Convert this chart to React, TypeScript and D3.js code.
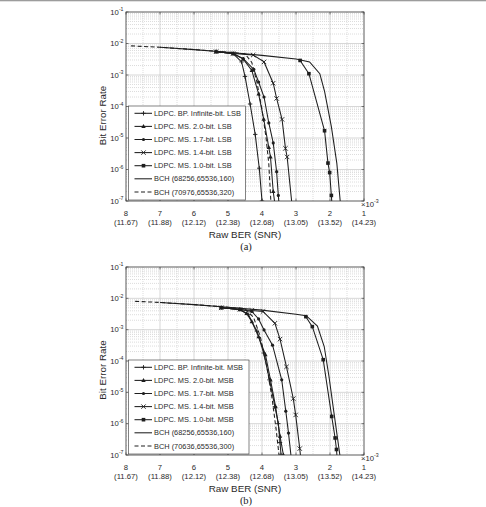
import React from 'react';
import * as d3 from 'd3';

type Pt = [number, number];
type Mark = 'plus' | 'tri' | 'dot' | 'x' | 'square' | 'none';

// x axis: raw BER (x1e-3) with the matching SNR under it
const rawBer = [8, 7, 6, 5, 4, 3, 2, 1];
const snrLabels = ['(11.67)', '(11.88)', '(12.12)', '(12.38)', '(12.68)', '(13.05)', '(13.52)', '(14.23)'];
const decades = [-1, -2, -3, -4, -5, -6, -7];

// ---- (a) LSB page ----
const aBP: Pt[] = [[5.35, 5.5e-3], [4.85, 4.8e-3], [4.6, 2.6e-3], [4.5, 9e-4], [4.35, 1.2e-4], [4.2, 1.3e-5], [4.08, 1.1e-6], [4.0, 1e-7]];
const a20: Pt[] = [[5.35, 5.5e-3], [4.85, 4.8e-3], [4.55, 3.2e-3], [4.3, 1.4e-3], [4.1, 2.5e-4], [3.95, 4e-5], [3.8, 5e-6], [3.75, 2.5e-6], [3.67, 2e-7], [3.62, 8e-8]];
const a17: Pt[] = [[5.35, 5.5e-3], [4.85, 4.8e-3], [4.55, 3.3e-3], [4.24, 1.5e-3], [4.1, 6e-4], [3.94, 2e-4], [3.8, 3e-5], [3.67, 7e-6], [3.57, 8.5e-7], [3.52, 1.5e-7], [3.49, 6e-8]];
const a14: Pt[] = [[5.35, 5.5e-3], [4.85, 4.8e-3], [4.26, 4.3e-3], [3.94, 2.6e-3], [3.67, 5.5e-4], [3.57, 1.8e-4], [3.41, 3.9e-5], [3.31, 4.7e-6], [3.26, 2.5e-6], [3.12, 8e-8]];
const a10: Pt[] = [[2.88, 2.9e-3], [2.62, 1.1e-3], [2.16, 1.7e-5], [2.06, 1.6e-6], [2.01, 8e-7], [1.96, 1.5e-7], [1.93, 5e-8]];
const aBch160: Pt[] = [[7, 7.6e-3], [6, 6.4e-3], [5, 5.3e-3], [4, 4.2e-3], [3, 3.2e-3], [2.6, 2.6e-3], [2.3, 1.1e-3], [2.16, 3e-4], [1.96, 2.3e-5], [1.8, 1.6e-6], [1.7, 1e-7]];
const aBch320: Pt[] = [[7.85, 8.4e-3], [7, 7.6e-3], [6, 6.4e-3], [5, 5.3e-3], [4.5, 4.7e-3], [4.3, 2.5e-3], [4.15, 6e-4], [4.0, 8e-5], [3.88, 1e-5], [3.8, 1.5e-6], [3.74, 1e-7]];
const legendA = ['LDPC. BP. Infinite-bit. LSB', 'LDPC. MS. 2.0-bit. LSB', 'LDPC. MS. 1.7-bit. LSB', 'LDPC. MS. 1.4-bit. LSB', 'LDPC. MS. 1.0-bit. LSB', 'BCH (68256,65536,160)', 'BCH (70976,65536,320)'];

// ---- (b) MSB page ----
const bBP: Pt[] = [[5.2, 5e-3], [4.65, 4.4e-3], [4.4, 3e-3], [4.15, 9e-4], [3.95, 1.8e-4], [3.78, 2.5e-5], [3.62, 3.5e-6], [3.52, 1e-6], [3.47, 2.5e-7], [3.44, 1e-7]];
const b20: Pt[] = [[5.2, 5e-3], [4.65, 4.4e-3], [4.45, 3.3e-3], [4.3, 1.8e-3], [4.1, 6e-4], [3.9, 1.6e-4], [3.75, 2.5e-5], [3.6, 3.5e-6], [3.47, 4e-7], [3.37, 1e-7]];
const b17: Pt[] = [[5.2, 5e-3], [4.65, 4.4e-3], [4.3, 3.8e-3], [4.1, 2.2e-3], [3.94, 9.8e-4], [3.69, 3.2e-4], [3.42, 2.5e-5], [3.3, 2.5e-6], [3.22, 5e-7], [3.14, 8e-8]];
const b14: Pt[] = [[5.2, 5e-3], [4.65, 4.4e-3], [4.3, 4.1e-3], [3.97, 3.8e-3], [3.62, 1.6e-3], [3.47, 5e-4], [3.28, 6.5e-5], [3.08, 6.3e-6], [3.01, 1.9e-6], [2.89, 1.6e-7], [2.86, 8e-8]];
const b10: Pt[] = [[2.71, 2.6e-3], [2.52, 1.25e-3], [2.2, 1.1e-4], [1.95, 1.7e-6], [1.85, 3.5e-7], [1.81, 1.5e-7], [1.78, 6e-8]];
const bBch160: Pt[] = [[7, 7.4e-3], [6, 6.3e-3], [5, 5.2e-3], [4, 4.2e-3], [3, 3.1e-3], [2.7, 2.8e-3], [2.37, 1.3e-3], [2.17, 2.9e-4], [2.03, 3.2e-5], [1.88, 2.1e-6], [1.71, 1e-7]];
const bBch300: Pt[] = [[7.73, 8e-3], [7, 7.4e-3], [6, 6.3e-3], [5, 5.2e-3], [4.5, 4.6e-3], [4.25, 2.5e-3], [4.05, 6e-4], [3.85, 6e-5], [3.7, 6e-6], [3.58, 6e-7], [3.5, 1e-7]];
const legendB = ['LDPC. BP. Infinite-bit. MSB', 'LDPC. MS. 2.0-bit. MSB', 'LDPC. MS. 1.7-bit. MSB', 'LDPC. MS. 1.4-bit. MSB', 'LDPC. MS. 1.0-bit. MSB', 'BCH (68256,65536,160)', 'BCH (70636,65536,300)'];

const marks: Mark[] = ['plus', 'tri', 'dot', 'x', 'square', 'none', 'none'];
const dashedIdx = 6;

const seriesA = [aBP, a20, a17, a14, a10, aBch160, aBch320];
const seriesB = [bBP, b20, b17, b14, b10, bBch160, bBch300];

const SANS = '"Liberation Sans", Arial, Helvetica, sans-serif';
const INK = '#1e1e1e';
const TXT = '#2a2a2a';

function Marker({ type, cx, cy }: { type: Mark; cx: number; cy: number }) {
  const s = 2.2;
  if (type === 'plus')
    return <path d={`M${cx - s},${cy}H${cx + s}M${cx},${cy - s}V${cy + s}`} stroke={INK} strokeWidth={0.9} />;
  if (type === 'x')
    return <path d={`M${cx - s},${cy - s}L${cx + s},${cy + s}M${cx - s},${cy + s}L${cx + s},${cy - s}`} stroke={INK} strokeWidth={0.9} />;
  if (type === 'tri')
    return <path d={`M${cx},${cy - 2.4}L${cx + 2.2},${cy + 1.6}L${cx - 2.2},${cy + 1.6}Z`} fill={INK} />;
  if (type === 'dot') return <circle cx={cx} cy={cy} r={1.6} fill={INK} />;
  if (type === 'square') return <rect x={cx - 1.8} y={cy - 1.8} width={3.6} height={3.6} fill={INK} />;
  return null;
}

function Panel({ id, top, height, series, legend, legendW, tag }: {
  id: string; top: number; height: number; series: Pt[][]; legend: string[]; legendW: number; tag: string;
}) {
  const left = 126;
  const right = 364;
  const bottom = top + height;
  const x = d3.scaleLinear().domain([8, 1]).range([left, right]);
  const y = d3.scaleLog().domain([1e-7, 1e-1]).range([bottom, top]);
  const line = d3.line<Pt>().x(d => x(d[0])).y(d => y(d[1]));

  const xMinor = d3.range(1.5, 8, 1);
  const xMajor = d3.range(2, 8, 1);
  const yMinor: number[] = [];
  for (let e = -7; e < -1; e++) for (let k = 2; k <= 9; k++) yMinor.push(k * Math.pow(10, e));
  const yMajor = decades.slice(1, -1).map(e => Math.pow(10, e));

  const lgX = left + 2.5;
  const lgY = bottom - 95;
  const rowH = 13.1;

  return (
    <g>
      <defs>
        <clipPath id={id}>
          <rect x={left} y={top} width={right - left} height={height} />
        </clipPath>
      </defs>
      {/* grid */}
      {yMinor.map((v, i) => (
        <line key={'ym' + i} x1={left} x2={right} y1={y(v)} y2={y(v)} stroke="#b8b8b8" strokeWidth={0.5} strokeDasharray="1,1" />
      ))}
      {xMinor.map((v, i) => (
        <line key={'xm' + i} x1={x(v)} x2={x(v)} y1={top} y2={bottom} stroke="#b8b8b8" strokeWidth={0.5} strokeDasharray="1,1" />
      ))}
      {yMajor.map((v, i) => (
        <line key={'yM' + i} x1={left} x2={right} y1={y(v)} y2={y(v)} stroke="#bcbcbc" strokeWidth={0.6} />
      ))}
      {xMajor.map((v, i) => (
        <line key={'xM' + i} x1={x(v)} x2={x(v)} y1={top} y2={bottom} stroke="#bcbcbc" strokeWidth={0.6} />
      ))}

      {/* curves */}
      <g clipPath={`url(#${id})`}>
        {series.map((s, i) => (
          <g key={'s' + i}>
            <path d={line(s) || ''} fill="none" stroke={INK} strokeWidth={1.05}
              strokeDasharray={i === dashedIdx ? '4,2.5' : undefined} />
            {s.map((p, j) => <Marker key={j} type={marks[i]} cx={x(p[0])} cy={y(p[1])} />)}
          </g>
        ))}
      </g>

      {/* axes box and ticks */}
      <rect x={left} y={top} width={right - left} height={height} fill="none" stroke="#333" strokeWidth={0.8} />
      {rawBer.map((v, i) => (
        <g key={'xt' + i}>
          <line x1={x(v)} x2={x(v)} y1={bottom} y2={bottom - 2.5} stroke="#333" strokeWidth={0.6} />
          <line x1={x(v)} x2={x(v)} y1={top} y2={top + 2.5} stroke="#333" strokeWidth={0.6} />
          <text x={x(v)} y={bottom + 15} textAnchor="middle" fontSize={7.7} fontFamily={SANS} fill={TXT}>{v}</text>
          <text x={x(v)} y={bottom + 24} textAnchor="middle" fontSize={7.7} fontFamily={SANS} fill={TXT}>{snrLabels[i]}</text>
        </g>
      ))}
      {decades.map((e, i) => (
        <g key={'yt' + i}>
          <line x1={left} x2={left + 2.5} y1={y(Math.pow(10, e))} y2={y(Math.pow(10, e))} stroke="#333" strokeWidth={0.6} />
          <line x1={right} x2={right - 2.5} y1={y(Math.pow(10, e))} y2={y(Math.pow(10, e))} stroke="#333" strokeWidth={0.6} />
          <text x={left - 2.5} y={y(Math.pow(10, e)) + 2.6} textAnchor="end" fontSize={7.7} fontFamily={SANS} fill={TXT}>
            10<tspan dy={-3.2} fontSize={5.2}>{e}</tspan>
          </text>
        </g>
      ))}
      <text x={right - 3} y={bottom + 5.5} fontSize={7.7} fontFamily={SANS} fill={TXT}>
        ×10<tspan dy={-3.2} fontSize={5.2}>-3</tspan>
      </text>

      {/* legend */}
      <rect x={lgX} y={lgY} width={legendW} height={94} fill="#fff" stroke="#333" strokeWidth={0.6} />
      {legend.map((lab, i) => {
        const cy = lgY + 7.3 + i * rowH;
        return (
          <g key={'lg' + i}>
            <line x1={lgX + 6} x2={lgX + 23.5} y1={cy} y2={cy} stroke={INK} strokeWidth={1.05}
              strokeDasharray={i === dashedIdx ? '4,2.5' : undefined} />
            <Marker type={marks[i]} cx={lgX + 15} cy={cy} />
            <text x={lgX + 25.5} y={cy + 2.6} fontSize={7.4} fontFamily={SANS} fill={TXT}>{lab}</text>
          </g>
        );
      })}

      {/* titles */}
      <text transform={`translate(105.5,${(top + bottom) / 2 + 9}) rotate(-90)`} textAnchor="middle"
        fontSize={9.8} fontFamily={SANS} fill={TXT}>Bit Error Rate</text>
      <text x={(left + right) / 2} y={bottom + 37} textAnchor="middle" fontSize={9.8} fontFamily={SANS} fill={TXT}>Raw BER (SNR)</text>
      <text x={(left + right) / 2 + 1} y={bottom + 48.5} textAnchor="middle" fontSize={10.5}
        fontFamily='"Liberation Serif", "Times New Roman", serif' fill="#222">{tag}</text>
    </g>
  );
}

export default function App() {
  return (
    <svg width={486} height={507} style={{ position: 'absolute', left: 0, top: 0, background: '#fff' }}>
      <rect x={0} y={0} width={486} height={507} fill="#fff" />
      <rect x={0} y={0} width={486} height={1.3} fill="#9c9c9c" />
      <Panel id="clipA" top={12} height={189} series={seriesA} legend={legendA} legendW={117} tag="(a)" />
      <Panel id="clipB" top={267} height={188} series={seriesB} legend={legendB} legendW={120.5} tag="(b)" />
    </svg>
  );
}
